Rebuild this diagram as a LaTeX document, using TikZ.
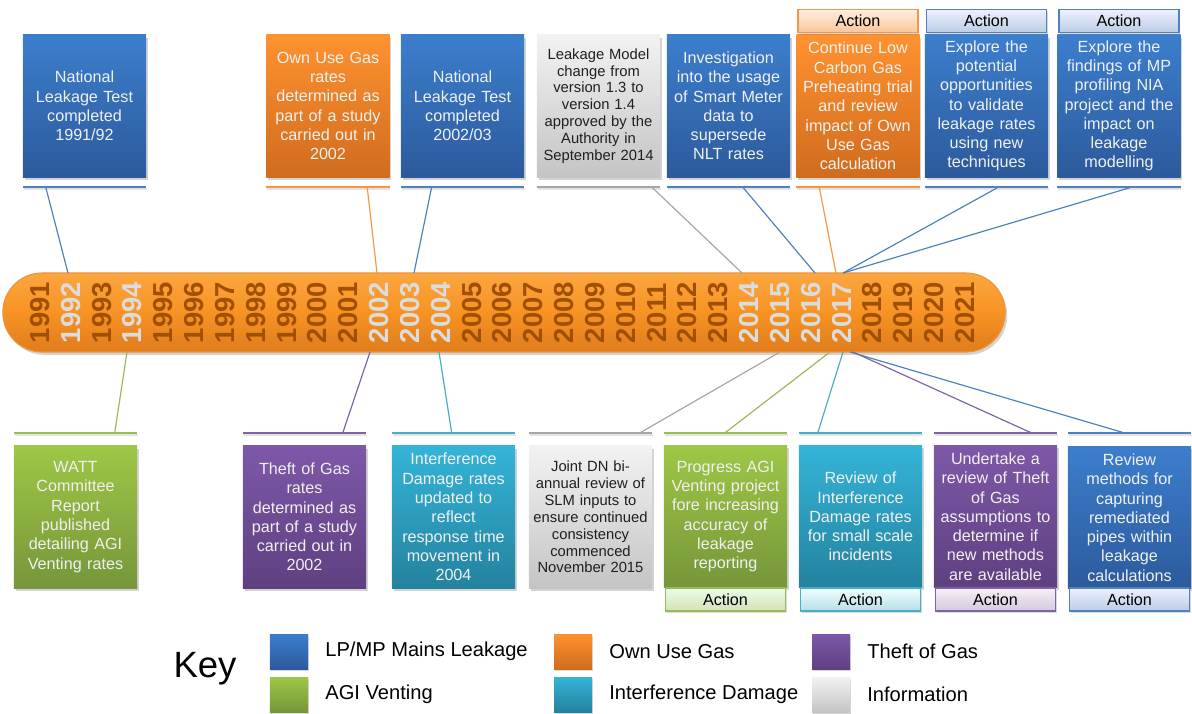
\documentclass[tikz,border=0pt]{standalone}
\usepackage{fontspec}
\setmainfont{Liberation Sans}
\usepackage{tikz}
\usetikzlibrary{shapes}
\usetikzlibrary{shadows}
\usetikzlibrary{positioning}

\definecolor{mainsTop}{RGB}{60,126,204}
\definecolor{mainsBot}{RGB}{44,90,156}
\definecolor{mainsLine}{RGB}{79,129,189}
\definecolor{ownTop}{RGB}{255,146,48}
\definecolor{ownBot}{RGB}{208,108,30}
\definecolor{ownLine}{RGB}{247,150,70}
\definecolor{theftTop}{RGB}{126,88,168}
\definecolor{theftBot}{RGB}{94,64,128}
\definecolor{theftLine}{RGB}{128,100,162}
\definecolor{agiTop}{RGB}{158,199,70}
\definecolor{agiBot}{RGB}{118,150,58}
\definecolor{agiLine}{RGB}{155,187,89}
\definecolor{damTop}{RGB}{52,180,216}
\definecolor{damBot}{RGB}{36,130,158}
\definecolor{damLine}{RGB}{75,172,198}
\definecolor{infoTop}{RGB}{242,242,242}
\definecolor{infoBot}{RGB}{196,196,196}
\definecolor{infoLine}{RGB}{166,166,166}
\definecolor{barTop}{RGB}{251,166,64}
\definecolor{barMid}{RGB}{247,147,35}
\definecolor{barBot}{RGB}{224,124,28}
\definecolor{barEdge}{RGB}{238,150,60}
\definecolor{yearDark}{RGB}{160,80,2}
\definecolor{yearLight}{RGB}{220,220,220}

\tikzstyle{event}=[rectangle, minimum width=3.075cm, minimum height=3.55cm, inner sep=1pt,
  text width=2.95cm, align=center, font=\fontsize{11.5}{13.7}\selectfont, text=white!94!black,
  drop shadow={opacity=0.35, shadow xshift=1.2pt, shadow yshift=-1.8pt}]
\tikzstyle{mains}=[event, top color=mainsTop, bottom color=mainsBot]
\tikzstyle{own}=[event, top color=ownTop, bottom color=ownBot]
\tikzstyle{theft}=[event, top color=theftTop, bottom color=theftBot]
\tikzstyle{agi}=[event, top color=agiTop, bottom color=agiBot]
\tikzstyle{damage}=[event, top color=damTop, bottom color=damBot]
\tikzstyle{info}=[event, top color=infoTop, bottom color=infoBot, text=black!88,
  font=\fontsize{10.5}{12}\selectfont]
\tikzstyle{action}=[rectangle, minimum width=3.0cm, minimum height=0.58cm, inner sep=0pt,
  line width=0.9pt, font=\fontsize{11.5}{13}\selectfont,
  drop shadow={opacity=0.3, shadow xshift=1pt, shadow yshift=-1.4pt}]
\tikzstyle{rule}=[rectangle, minimum width=3.075cm, minimum height=0.045cm, inner sep=0pt,
  drop shadow={opacity=0.22, shadow xshift=0.6pt, shadow yshift=-1.4pt}]
\tikzstyle{link}=[line width=0.85pt]
\tikzstyle{timeline}=[rectangle, rounded corners=0.98cm, minimum width=25.05cm,
  minimum height=1.975cm, top color=barTop, bottom color=barBot, middle color=barMid,
  draw=barEdge, line width=0.8pt,
  drop shadow={opacity=0.35, shadow xshift=1.5pt, shadow yshift=-2pt}]
\tikzstyle{year}=[rotate=90, inner sep=0pt, font=\fontsize{19.5}{19.5}\selectfont\bfseries]
\tikzstyle{keybox}=[rectangle, minimum width=0.95cm, minimum height=0.875cm, inner sep=0pt,
  drop shadow={opacity=0.3, shadow xshift=1pt, shadow yshift=-1.4pt}]
\tikzstyle{keytext}=[inner sep=0pt, font=\fontsize{14.3}{16}\selectfont]

\begin{document}
\begin{tikzpicture}[x=0.025cm, y=-0.025cm]
  \useasboundingbox (0,0) rectangle (1192,713);

  % events above the line
  \node[mains] at (84.5,106) (t1) {National\\Leakage Test\\completed\\1991/92};
  \node[own] at (328,106) (t2) {Own Use Gas\\rates\\determined as\\part of a study\\carried out in\\2002};
  \node[mains] at (462.5,106) (t3) {National\\Leakage Test\\completed\\2002/03};
  \node[info] at (598.5,106) (t4) {Leakage Model\\change from\\version 1.3 to\\version 1.4\\approved by the\\Authority in\\September 2014};
  \node[mains] at (728.5,106) (t5) {Investigation\\into the usage\\of Smart Meter\\data to\\supersede\\NLT rates};
  \node[own] at (858,106) (t6) {Continue Low\\Carbon Gas\\Preheating trial\\and review\\impact of Own\\Use Gas\\calculation};
  \node[mains] at (986.5,106) (t7) {Explore the\\potential\\opportunities\\to validate\\leakage rates\\using new\\techniques};
  \node[mains] at (1119,106) (t8) {Explore the\\findings of MP\\profiling NIA\\project and the\\impact on\\leakage\\modelling};

  \node[action, top color=orange!12, bottom color=ownLine!55, draw=ownLine] at (858,21) (a6) {Action};
  \node[action, top color=blue!6, bottom color=mainsLine!40, draw=mainsLine] at (986.5,21) (a7) {Action};
  \node[action, top color=blue!6, bottom color=mainsLine!40, draw=mainsLine] at (1119,21) (a8) {Action};

  \node[rule, fill=mainsLine] at (84.5,187) (r1) {};
  \node[rule, fill=ownLine] at (328,187) (r2) {};
  \node[rule, fill=mainsLine] at (462.5,187) (r3) {};
  \node[rule, fill=infoLine] at (598.5,187) (r4) {};
  \node[rule, fill=mainsLine] at (728.5,187) (r5) {};
  \node[rule, fill=ownLine] at (858,187) (r6) {};
  \node[rule, fill=mainsLine] at (986.5,187) (r7) {};
  \node[rule, fill=mainsLine] at (1119,187) (r8) {};

  % events below the line
  \node[agi] at (75.5,517) (b1) {WATT\\Committee\\Report\\published\\detailing AGI\\Venting rates};
  \node[theft] at (304.5,517) (b2) {Theft of Gas\\rates\\determined as\\part of a study\\carried out in\\2002};
  \node[damage] at (453.5,517) (b3) {Interference\\Damage rates\\updated to\\reflect\\response time\\movement in\\2004};
  \node[info] at (590.5,517) (b4) {Joint DN bi-\\annual review of\\SLM inputs to\\ensure continued\\consistency\\commenced\\November 2015};
  \node[agi] at (725.5,516.5) (b5) {Progress AGI\\Venting project\\fore increasing\\accuracy of\\leakage\\reporting};
  \node[damage] at (860.5,516.5) (b6) {Review of\\Interference\\Damage rates\\for small scale\\incidents};
  \node[theft] at (995.5,516.5) (b7) {Undertake a\\review of Theft\\of Gas\\assumptions to\\determine if\\new methods\\are available};
  \node[mains] at (1129.5,517.5) (b8) {Review\\methods for\\capturing\\remediated\\pipes within\\leakage\\calculations};

  \node[action, top color=green!8!white, bottom color=agiLine!45, draw=agiLine] at (725.5,599.5) (a5) {Action};
  \node[action, top color=cyan!6, bottom color=damLine!40, draw=damLine] at (860.5,599.5) (a6b) {Action};
  \node[action, top color=violet!6, bottom color=theftLine!35, draw=theftLine] at (995.5,599.5) (a7b) {Action};
  \node[action, top color=blue!6, bottom color=mainsLine!40, draw=mainsLine] at (1129.5,599.5) (a8b) {Action};

  \node[rule, fill=agiLine] at (75.5,433) (s1) {};
  \node[rule, fill=theftLine] at (304.5,433) (s2) {};
  \node[rule, fill=damLine] at (453.5,433) (s3) {};
  \node[rule, fill=infoLine] at (590.5,433) (s4) {};
  \node[rule, fill=agiLine] at (725.5,433) (s5) {};
  \node[rule, fill=damLine] at (860.5,433) (s6) {};
  \node[rule, fill=theftLine] at (995.5,433) (s7) {};
  \node[rule, fill=mainsLine] at (1129.5,433) (s8) {};

  % the timeline
  \node[timeline] at (504,312.5) (bar) {};
  \foreach \yr in {1991,...,2021}{
    \pgfmathtruncatemacro\k{\yr-1991}
    \pgfmathtruncatemacro\hi{(\yr==1992)||(\yr==1994)||((\yr>2001)&&(\yr<2005))||((\yr>2013)&&(\yr<2018))}
    \ifnum\hi=1 \def\yc{yearLight}\else\def\yc{yearDark}\fi
    \node[year, text=\yc] at ({40+30.83*\k},312.5) (y\yr) {\yr};
  }

  \coordinate (p1) at (68,273);
  \coordinate (p2) at (377,273);
  \coordinate (p3) at (414,273);
  \coordinate (p4) at (742,273);
  \coordinate (p5) at (815,273);
  \coordinate (p6) at (836,273);
  \coordinate (p7) at (843,273);
  \coordinate (q1) at (127,352);
  \coordinate (q2) at (370,352);
  \coordinate (q3) at (439,352);
  \coordinate (q4) at (780,352);
  \coordinate (q5) at (830,352);
  \coordinate (q6) at (843,352);
  \coordinate (q7) at (853,352);
  \coordinate (q8) at (850,352);

  \draw[link, mainsLine] (r1.west) ++(23,0) -- (p1);
  \draw[link, ownLine] (r2.west) ++(101,0) -- (p2);
  \draw[link, mainsLine] (r3.west) ++(31,0) -- (p3);
  \draw[link, infoLine] (r4.west) ++(115,0) -- (p4);
  \draw[link, mainsLine] (r5.west) ++(76,0) -- (p5);
  \draw[link, ownLine] (r6.west) ++(23,0) -- (p6);
  \draw[link, mainsLine] (r7.west) ++(74,0) -- (p7);
  \draw[link, mainsLine] (r8.west) ++(75,0) -- (p7);

  \draw[link, agiLine] (s1.west) ++(101,0) -- (q1);
  \draw[link, theftLine] (s2.west) ++(100,0) -- (q2);
  \draw[link, damLine] (s3.west) ++(60,0) -- (q3);
  \draw[link, infoLine] (s4.west) ++(111,0) -- (q4);
  \draw[link, agiLine] (s5.west) ++(61,0) -- (q5);
  \draw[link, damLine] (s6.west) ++(19,0) -- (q6);
  \draw[link, theftLine] (s7.west) ++(98,0) -- (q7);
  \draw[link, mainsLine] (s8.west) ++(57,0) -- (q8);

  % key
  \node[font=\fontsize{26}{28}\selectfont] at (205,669) (key) {Key};
  \node[keybox, top color=mainsTop, bottom color=mainsBot] at (289,651.5) (kmains) {};
  \node[keybox, top color=agiTop, bottom color=agiBot] at (289,694.5) (kagi) {};
  \node[keybox, top color=ownTop, bottom color=ownBot] at (573,651.5) (kown) {};
  \node[keybox, top color=damTop, bottom color=damBot] at (573,694.5) (kdam) {};
  \node[keybox, top color=theftTop, bottom color=theftBot] at (831,651.5) (ktheft) {};
  \node[keybox, top color=infoTop, bottom color=infoBot] at (831,694.5) (kinfo) {};
  \node[keytext, right=0.42cm of kmains] {LP/MP Mains Leakage};
  \node[keytext, right=0.42cm of kagi] {AGI Venting};
  \node[keytext, right=0.42cm of kown] {Own Use Gas};
  \node[keytext, right=0.42cm of kdam] {Interference Damage};
  \node[keytext, right=0.42cm of ktheft] {Theft of Gas};
  \node[keytext, right=0.42cm of kinfo] {Information};
\end{tikzpicture}
\end{document}
